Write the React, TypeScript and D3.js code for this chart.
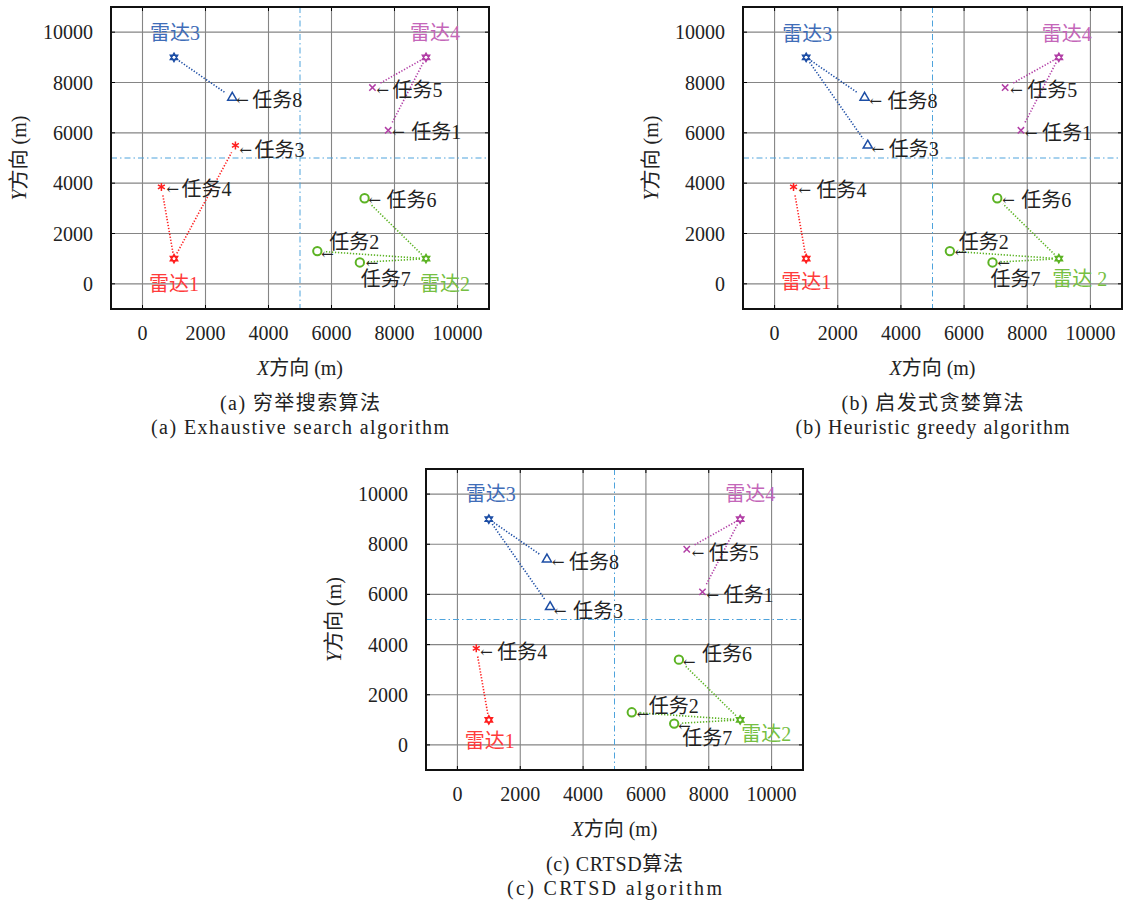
import * as d3 from 'd3'

// radars and tasks, in metres
const radarNames = ['雷达1', '雷达2', '雷达3', '雷达4']
const radarX = [1000, 9000, 1000, 9000]
const radarY = [1000, 1000, 9000, 9000]

const taskNames = ['任务1', '任务2', '任务3', '任务4', '任务5', '任务6', '任务7', '任务8']
const taskX = [7800, 5550, 2950, 600, 7300, 7050, 6900, 2850]
const taskY = [6100, 1300, 5500, 3850, 7800, 3400, 850, 7400]

// which radar (index) each task goes to, per algorithm
const assignExhaustive = [3, 1, 0, 0, 3, 1, 1, 2]
const assignGreedy = [3, 1, 2, 0, 3, 1, 1, 2]
const assignCrtsd = [3, 1, 2, 0, 3, 1, 1, 2]

const tickValues = [0, 2000, 4000, 6000, 8000, 10000]
const domain: [number, number] = [-1000, 11000]

const lineColors = ['#ff1f1f', '#5cb324', '#1d4ea5', '#b23fa6']
const labelColors = ['#ff3b3b', '#76bf42', '#3f6db8', '#c466b9']

const FONT = '"Liberation Serif", "DejaVu Serif", "Noto Sans CJK SC", serif'

// six-pointed star used for the radars
const hexagram = {
  draw(ctx: any, size: number) {
    const r = Math.sqrt(size) / 2
    for (const rot of [-90, 90]) {
      for (let i = 0; i < 3; i++) {
        const a = ((rot + i * 120) * Math.PI) / 180
        const x = r * Math.cos(a)
        const y = r * Math.sin(a)
        if (i === 0) ctx.moveTo(x, y)
        else ctx.lineTo(x, y)
      }
      ctx.closePath()
    }
  },
}

const markerPath = [
  d3.symbol().type(d3.symbolAsterisk).size(45)(),
  d3.symbol().type(d3.symbolCircle).size(55)(),
  d3.symbol().type(d3.symbolTriangle2).size(60)(),
  d3.symbol().type(d3.symbolTimes).size(28)(),
]
const radarPath = d3.symbol().type(hexagram as any).size(70)()

type Off = [number, number, number, number] // arrow dx, arrow dy, text dx, text dy

const panels = [
  {
    id: 'a', left: 111, right: 489, top: 7, bottom: 309,
    assign: assignExhaustive,
    radarLabels: radarNames,
    captionCn: '(a) 穷举搜索算法',
    captionEn: '(a) Exhaustive search algorithm',
    capW: [160, 298],
    radarOff: [[0, 25], [19, 25], [1, -24], [9, -24]],
    taskOff: [
      [4, 2, 23, 2], [4, 3, 12, -9], [4, 5, 19, 5], [5, 2, 20, 2],
      [4, 2, 20, 2], [4, 2, 22, 2], [6, 1, 1, 17], [4, 2, 20, 2],
    ] as Off[],
  },
  {
    id: 'b', left: 743, right: 1122, top: 7, bottom: 309,
    assign: assignGreedy,
    radarLabels: ['雷达1', '雷达 2', '雷达3', '雷达4'],
    captionCn: '(b) 启发式贪婪算法',
    captionEn: '(b) Heuristic greedy algorithm',
    capW: [182, 274],
    radarOff: [[0, 23], [21, 20], [1, -23], [8, -23]],
    taskOff: [
      [4, 3, 21, 3], [5, 1, 9, -9], [4, 4, 21, 4], [5, 3, 23, 3],
      [5, 2, 22, 2], [5, 2, 24, 2], [5, 1, -2, 17], [5, 3, 23, 3],
    ] as Off[],
  },
  {
    id: 'c', left: 426, right: 803, top: 469, bottom: 770,
    assign: assignCrtsd,
    radarLabels: radarNames,
    captionCn: '(c) CRTSD算法',
    captionEn: '(c) CRTSD algorithm',
    capW: [137, 215],
    radarOff: [[1, 21], [26, 14], [2, -25], [10, -25]],
    taskOff: [
      [4, 3, 21, 3], [5, 2, 17, -6], [4, 4, 23, 4], [4, 4, 21, 4],
      [5, 4, 22, 4], [4, 2, 23, -6], [4, 2, 8, 14], [5, 3, 22, 3],
    ] as Off[],
  },
]

function Panel({ p }: { p: (typeof panels)[number] }) {
  const x = d3.scaleLinear().domain(domain).range([p.left, p.right])
  const y = d3.scaleLinear().domain(domain).range([p.bottom, p.top])
  const cx = (p.left + p.right) / 2
  const cy = (p.top + p.bottom) / 2

  const links = taskNames.map((_, i) => {
    const r = p.assign[i]
    const x1 = x(radarX[r]), y1 = y(radarY[r])
    const x2 = x(taskX[i]), y2 = y(taskY[i])
    const len = Math.hypot(x2 - x1, y2 - y1)
    const ux = (x2 - x1) / len, uy = (y2 - y1) / len
    return { r, x1: x1 + ux * 6, y1: y1 + uy * 6, x2: x2 - ux * 8, y2: y2 - uy * 8 }
  })

  return (
    <g>
      {/* grid */}
      {tickValues.map((t) => (
        <g key={'g' + t}>
          <line x1={x(t)} x2={x(t)} y1={p.top} y2={p.bottom} stroke="#858585" strokeWidth={1.1} />
          <line x1={p.left} x2={p.right} y1={y(t)} y2={y(t)} stroke="#858585" strokeWidth={1.1} />
          <line x1={x(t)} x2={x(t)} y1={p.bottom} y2={p.bottom - 4} stroke="#000" />
          <line x1={x(t)} x2={x(t)} y1={p.top} y2={p.top + 4} stroke="#000" />
          <line x1={p.left} x2={p.left + 4} y1={y(t)} y2={y(t)} stroke="#000" />
          <line x1={p.right} x2={p.right - 4} y1={y(t)} y2={y(t)} stroke="#000" />
        </g>
      ))}
      {/* quadrant split */}
      <line x1={x(5000)} x2={x(5000)} y1={p.top} y2={p.bottom} stroke="#4ea3dc" strokeWidth={1} strokeDasharray="6 3 1.5 3" />
      <line x1={p.left} x2={p.right} y1={y(5000)} y2={y(5000)} stroke="#4ea3dc" strokeWidth={1} strokeDasharray="6 3 1.5 3" />
      <rect x={p.left} y={p.top} width={p.right - p.left} height={p.bottom - p.top} fill="none" stroke="#111" strokeWidth={2} />

      {/* tick labels */}
      {tickValues.map((t) => (
        <text key={'xt' + t} x={x(t)} y={p.bottom + 24} textAnchor="middle" dominantBaseline="central" fontSize={20} fill="#222">
          {t}
        </text>
      ))}
      {tickValues.map((t) => (
        <text key={'yt' + t} x={p.left - 18} y={y(t)} textAnchor="end" dominantBaseline="central" fontSize={20} fill="#222">
          {t}
        </text>
      ))}
      <text x={cx} y={p.bottom + 59} textAnchor="middle" dominantBaseline="central" fontSize={20} fill="#222">
        <tspan fontStyle="italic">X</tspan>方向 (m)
      </text>
      <text
        transform={`translate(${p.left - 92},${cy}) rotate(-90)`}
        textAnchor="middle"
        dominantBaseline="central"
        fontSize={20}
        fill="#222"
      >
        <tspan fontStyle="italic">Y</tspan>方向 (m)
      </text>

      {/* radar-task links */}
      {links.map((l, i) => (
        <line key={'l' + i} x1={l.x1} y1={l.y1} x2={l.x2} y2={l.y2} stroke={lineColors[l.r]} strokeWidth={1.6} strokeDasharray="1.3 1.7" />
      ))}

      {/* tasks */}
      {taskNames.map((name, i) => {
        const r = p.assign[i]
        const tx = x(taskX[i]), ty = y(taskY[i])
        const o = p.taskOff[i]
        return (
          <g key={'t' + i}>
            <path
              d={markerPath[r] as string}
              transform={`translate(${tx},${ty})`}
              fill={r === 1 ? '#fff' : 'none'}
              stroke={lineColors[r]}
              strokeWidth={r === 1 ? 2 : 1.5}
            />
            <text x={tx + o[0]} y={ty + o[1]} dominantBaseline="central" fontSize={15} fill="#222" fontFamily='"DejaVu Serif", serif'>
              ←
            </text>
            <text x={tx + o[2]} y={ty + o[3]} dominantBaseline="central" fontSize={20} fill="#222">
              {name}
            </text>
          </g>
        )
      })}

      {/* radars */}
      {radarNames.map((_, i) => (
        <g key={'r' + i}>
          <path d={radarPath as string} transform={`translate(${x(radarX[i])},${y(radarY[i])})`} fill="none" stroke={lineColors[i]} strokeWidth={1.5} />
          <text
            x={x(radarX[i]) + p.radarOff[i][0]}
            y={y(radarY[i]) + p.radarOff[i][1]}
            textAnchor="middle"
            dominantBaseline="central"
            fontSize={20}
            fill={labelColors[i]}
          >
            {p.radarLabels[i]}
          </text>
        </g>
      ))}

      {/* caption */}
      <text
        x={cx} y={p.bottom + 94} textAnchor="middle" dominantBaseline="central" fontSize={20} fill="#222"
        textLength={p.capW[0]} lengthAdjust="spacing"
      >
        {p.captionCn}
      </text>
      <text
        x={cx} y={p.bottom + 118} textAnchor="middle" dominantBaseline="central" fontSize={20} fill="#222"
        textLength={p.capW[1]} lengthAdjust="spacing"
      >
        {p.captionEn}
      </text>
    </g>
  )
}

export default function App() {
  return (
    <svg
      width={1125}
      height={902}
      style={{ position: 'absolute', left: 0, top: 0, background: '#fff' }}
      fontFamily={FONT}
    >
      <rect width={1125} height={902} fill="#fff" />
      {panels.map((p) => (
        <Panel key={p.id} p={p} />
      ))}
    </svg>
  )
}
